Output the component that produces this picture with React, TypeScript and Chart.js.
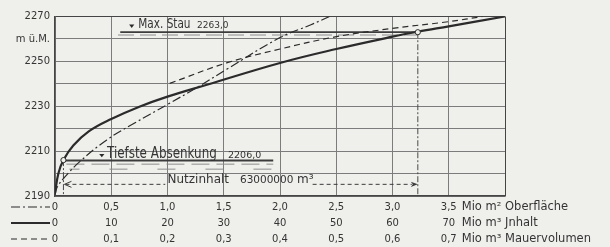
import { useEffect, useRef } from "react";
import { Chart, registerables } from "chart.js";

Chart.register(...registerables);

const FONT = '"DejaVu Sans", "Liberation Sans", sans-serif';
const INK = "#2b2b2b";
const TEXT = "#343434";
const GRID = "#7c7c7c";
const EDGE = "#454545";
const PAPER = "#efefec";

// Elevation axis (m ü.M.)
const elevationTicks = [2190, 2200, 2210, 2220, 2230, 2240, 2250, 2260, 2270];
const elevationLabels = ["2190", "", "2210", "", "2230", "", "2250", "m ü.M.", "2270"];

// Bottom scales
const oberflaecheTicks = [0, 0.5, 1, 1.5, 2, 2.5, 3, 3.5, 4];
const oberflaecheLabels = ["0", "0,5", "1,0", "1,5", "2,0", "2,5", "3,0", "3,5", ""];
const inhaltTicks = [0, 10, 20, 30, 40, 50, 60, 70];
const inhaltLabels = ["0", "10", "20", "30", "40", "50", "60", "70"];
const mauerTicks = [0, 0.1, 0.2, 0.3, 0.4, 0.5, 0.6, 0.7];
const mauerLabels = ["0", "0,1", "0,2", "0,3", "0,4", "0,5", "0,6", "0,7"];
const unitLabels = ["Mio m² Oberfläche", "Mio m³ Jnhalt", "Mio m³ Mauervolumen"];

// Curves: Oberfläche (Mio m²), Inhalt (Mio m³), Mauervolumen (Mio m³) vs elevation
const oberflaecheX = [0, 0.02, 0.09, 0.22, 0.46, 0.7, 1.0, 1.26, 1.53, 2.0, 2.27, 2.44];
const oberflaecheElev = [2190.5, 2194, 2198.6, 2205.3, 2215, 2222.3, 2230.8, 2238.3, 2246.6, 2260.6, 2266.2, 2270];
const inhaltX = [0, 0.6, 1.5, 3.25, 6, 10, 15, 20, 27, 40, 50, 60, 64.5, 70, 80];
const inhaltElev = [2191.3, 2200, 2206, 2212.5, 2218.8, 2224.3, 2229.8, 2234.3, 2239.6, 2249.3, 2255.5, 2261, 2263.2, 2265.6, 2270];
const mauerX = [0.204, 0.305, 0.4, 0.5, 0.6, 0.7, 0.76];
const mauerElev = [2240.2, 2249.3, 2255.5, 2261, 2264.7, 2267.7, 2270];

// Storage levels
const maxStau = 2263;
const maxStauText = "Max. Stau";
const maxStauValue = "2263,0";
const tiefsteAbsenkung = 2205.8;
const tiefsteText = "Tiefste Absenkung";
const tiefsteValue = "2206,0";
const pointInhalt = [1.5, 64.5];
const pointElev = [2206, 2263];
const nutzinhaltText = "Nutzinhalt";
const nutzinhaltValue = "63000000";
const nutzinhaltUnit = "m³";
const nutzinhaltElev = 2195.2;

const toXY = (xs: number[], ys: number[]) => xs.map((x, i) => ({ x, y: ys[i] }));

function strokeLine(ctx: CanvasRenderingContext2D, x1: number, y1: number, x2: number, y2: number, w: number, color: string, dash: number[] = [], offset = 0) {
  ctx.save();
  ctx.beginPath();
  ctx.lineWidth = w;
  ctx.strokeStyle = color;
  ctx.setLineDash(dash);
  ctx.lineDashOffset = offset;
  ctx.moveTo(x1, y1);
  ctx.lineTo(x2, y2);
  ctx.stroke();
  ctx.restore();
}

function drawText(ctx: CanvasRenderingContext2D, s: string, x: number, y: number, size: number, sx = 1, baseline: CanvasTextBaseline = "alphabetic") {
  ctx.save();
  ctx.translate(x, y);
  ctx.scale(sx, 1);
  ctx.font = `${size}px ${FONT}`;
  ctx.fillStyle = TEXT;
  ctx.textAlign = "left";
  ctx.textBaseline = baseline;
  ctx.fillText(s, 0, 0);
  ctx.restore();
}

function triangle(ctx: CanvasRenderingContext2D, cx: number, top: number, bottom: number, half: number) {
  ctx.save();
  ctx.beginPath();
  ctx.fillStyle = INK;
  ctx.moveTo(cx - half, top);
  ctx.lineTo(cx + half, top);
  ctx.lineTo(cx, bottom);
  ctx.closePath();
  ctx.fill();
  ctx.restore();
}

const annotations = {
  id: "annotations",
  beforeDraw(chart: any) {
    const ctx = chart.ctx as CanvasRenderingContext2D;
    ctx.save();
    ctx.fillStyle = PAPER;
    ctx.fillRect(0, 0, chart.width, chart.height);
    ctx.restore();
  },
  beforeDatasetsDraw(chart: any) {
    const ctx = chart.ctx as CanvasRenderingContext2D;
    const xO = chart.scales.xO;
    const xI = chart.scales.xI;
    const y = chart.scales.y;
    const X = (v: number) => xO.getPixelForValue(v);
    const XI = (v: number) => xI.getPixelForValue(v);

    // Max. Stau
    const yS = y.getPixelForValue(maxStau);
    strokeLine(ctx, X(0.58), yS, XI(pointInhalt[1]), yS, 1.8, "#3c3c3c");
    strokeLine(ctx, X(0.56), yS + 2.8, XI(pointInhalt[1]), yS + 2.8, 1, "#8c8c8c", [16, 6]);

    // Tiefste Absenkung
    const yT = y.getPixelForValue(tiefsteAbsenkung);
    strokeLine(ctx, XI(pointInhalt[0]), yT, X(1.94), yT, 2, "#3c3c3c");
    strokeLine(ctx, XI(pointInhalt[0]) + 3, yT + 3.6, X(1.94), yT + 3.6, 1, "#8c8c8c", [18, 7]);
    strokeLine(ctx, XI(pointInhalt[0]) + 6, yT + 8.6, X(1.94), yT + 8.6, 1, "#8c8c8c", [18, 30], 8);

    // vertical guides
    const yB = y.getPixelForValue(2190);
    strokeLine(ctx, XI(pointInhalt[1]), y.getPixelForValue(pointElev[1]), XI(pointInhalt[1]), yB, 1, "#4a4a4a", [6, 2, 2, 2]);
    strokeLine(ctx, XI(pointInhalt[0]), y.getPixelForValue(pointElev[0]), XI(pointInhalt[0]), yB, 1, "#4a4a4a", [6, 2, 2, 2]);

    // Nutzinhalt arrow
    const yN = y.getPixelForValue(nutzinhaltElev);
    const xl = XI(pointInhalt[0]) + 1;
    const xr = XI(pointInhalt[1]);
    strokeLine(ctx, xl + 1, yN, X(0.98), yN, 1, "#3c3c3c", [4, 3]);
    ctx.save();
    ctx.beginPath();
    ctx.strokeStyle = "#3c3c3c";
    ctx.lineWidth = 1;
    ctx.moveTo(xl + 7, yN - 3);
    ctx.lineTo(xl, yN);
    ctx.lineTo(xl + 7, yN + 3);
    ctx.stroke();
    ctx.restore();
    strokeLine(ctx, X(2.29), yN, xr - 6, yN, 1, "#3c3c3c", [4, 3]);
    ctx.save();
    ctx.beginPath();
    ctx.fillStyle = "#3c3c3c";
    ctx.moveTo(xr, yN);
    ctx.lineTo(xr - 7, yN - 2.6);
    ctx.lineTo(xr - 5, yN);
    ctx.lineTo(xr - 7, yN + 2.6);
    ctx.closePath();
    ctx.fill();
    ctx.restore();
  },
  afterDatasetsDraw(chart: any) {
    const ctx = chart.ctx as CanvasRenderingContext2D;
    const xO = chart.scales.xO;
    const y = chart.scales.y;
    const X = (v: number) => xO.getPixelForValue(v);

    const yS = y.getPixelForValue(maxStau);
    triangle(ctx, X(0.682), yS - 7.6, yS - 4.2, 2.6);
    drawText(ctx, maxStauText, X(0.74), yS - 4.3, 14, 0.75);
    drawText(ctx, maxStauValue, X(1.262), yS - 4.3, 9);

    const yT = y.getPixelForValue(tiefsteAbsenkung);
    triangle(ctx, X(0.416), yT - 6.6, yT - 3.2, 2.6);
    drawText(ctx, tiefsteText, X(0.462), yT - 2.5, 16, 0.745);
    drawText(ctx, tiefsteValue, X(1.538), yT - 2.5, 9.5);

    const yN = y.getPixelForValue(nutzinhaltElev);
    drawText(ctx, nutzinhaltText, X(1.0), yN - 1.8, 12);
    drawText(ctx, nutzinhaltValue, X(1.644), yN - 1.8, 10.5);
    drawText(ctx, nutzinhaltUnit, X(2.151), yN - 1.8, 12);
  },
  afterDraw(chart: any) {
    const ctx = chart.ctx as CanvasRenderingContext2D;
    const xO = chart.scales.xO;
    const ids = ["xO", "xI", "xM"];
    const dashes = [[9, 3, 2, 3], [], [6, 4]];
    const widths = [1.2, 2.2, 1.2];
    ids.forEach((id, i) => {
      const s = chart.scales[id];
      const yy = s.top + 11;
      strokeLine(ctx, 11, yy, 50, yy, widths[i], INK, dashes[i]);
      drawText(ctx, unitLabels[i], xO.getPixelForValue(3.5) + 13, yy, 11.5, 1, "middle");
    });
  },
};

function bottomAxis(min: number, max: number, ticks: number[], labels: string[], grid: boolean) {
  return {
    type: "linear" as const,
    position: "bottom" as const,
    min,
    max,
    afterBuildTicks: (scale: any) => {
      scale.ticks = ticks.map((v) => ({ value: v }));
    },
    afterFit: (scale: any) => {
      scale.height = 16;
    },
    ticks: {
      autoSkip: false,
      maxRotation: 0,
      minRotation: 0,
      padding: 5,
      color: TEXT,
      font: { family: FONT, size: 10 },
      callback: (_v: any, i: number) => labels[i] ?? "",
    },
    grid: grid
      ? {
          display: true,
          drawTicks: false,
          lineWidth: 1,
          color: (c: any) => (c.tick && c.tick.value === max ? EDGE : GRID),
        }
      : { display: false, drawTicks: false },
    border: grid ? { display: true, color: EDGE, width: 1.4 } : { display: false },
  };
}

export default function App() {
  const ref = useRef<HTMLCanvasElement>(null);
  useEffect(() => {
    const canvas = ref.current!;
    const chart = new Chart(canvas, {
      type: "scatter",
      data: {
        datasets: [
          {
            label: "Speicherpunkte",
            data: toXY(pointInhalt, pointElev),
            xAxisID: "xI",
            pointRadius: 2.6,
            pointBackgroundColor: PAPER,
            pointBorderColor: INK,
            pointBorderWidth: 1,
            showLine: false,
            order: 0,
          },
          {
            label: "Oberfläche",
            data: toXY(oberflaecheX, oberflaecheElev),
            xAxisID: "xO",
            showLine: true,
            borderColor: INK,
            borderWidth: 1.2,
            borderDash: [9, 3, 2, 3],
            pointRadius: 0,
            tension: 0.4,
            order: 1,
          },
          {
            label: "Jnhalt",
            data: toXY(inhaltX, inhaltElev),
            xAxisID: "xI",
            showLine: true,
            borderColor: INK,
            borderWidth: 2.2,
            pointRadius: 0,
            tension: 0.4,
            order: 1,
          },
          {
            label: "Mauervolumen",
            data: toXY(mauerX, mauerElev),
            xAxisID: "xM",
            showLine: true,
            borderColor: INK,
            borderWidth: 1.2,
            borderDash: [6, 4],
            pointRadius: 0,
            tension: 0.4,
            order: 1,
          },
        ],
      } as any,
      options: {
        responsive: false,
        devicePixelRatio: 1,
        animation: false,
        events: [],
        layout: { padding: { left: 0, right: 105, top: 16.5, bottom: 3 } },
        plugins: { legend: { display: false }, tooltip: { enabled: false } },
        scales: {
          xO: bottomAxis(0, 4, oberflaecheTicks, oberflaecheLabels, true),
          xI: bottomAxis(0, 80, inhaltTicks, inhaltLabels, false),
          xM: bottomAxis(0, 0.8, mauerTicks, mauerLabels, false),
          y: {
            type: "linear",
            position: "left",
            min: 2190,
            max: 2270,
            afterBuildTicks: (scale: any) => {
              scale.ticks = elevationTicks.map((v) => ({ value: v }));
            },
            afterFit: (scale: any) => {
              scale.width = 55;
            },
            ticks: {
              padding: 5,
              color: TEXT,
              font: { family: FONT, size: 10 },
              callback: (_v: any, i: number) => elevationLabels[i] ?? "",
            },
            grid: {
              drawTicks: false,
              lineWidth: 1,
              color: (c: any) => (c.tick && c.tick.value === 2270 ? EDGE : GRID),
            },
            border: { display: true, color: EDGE, width: 1.4 },
          },
        } as any,
      },
      plugins: [annotations],
    });
    return () => chart.destroy();
  }, []);
  return (
    <div style={{ position: "fixed", left: 0, top: 0, width: 610, height: 247, background: PAPER }}>
      <canvas ref={ref} width={610} height={247} style={{ display: "block", width: 610, height: 247 }} />
    </div>
  );
}
